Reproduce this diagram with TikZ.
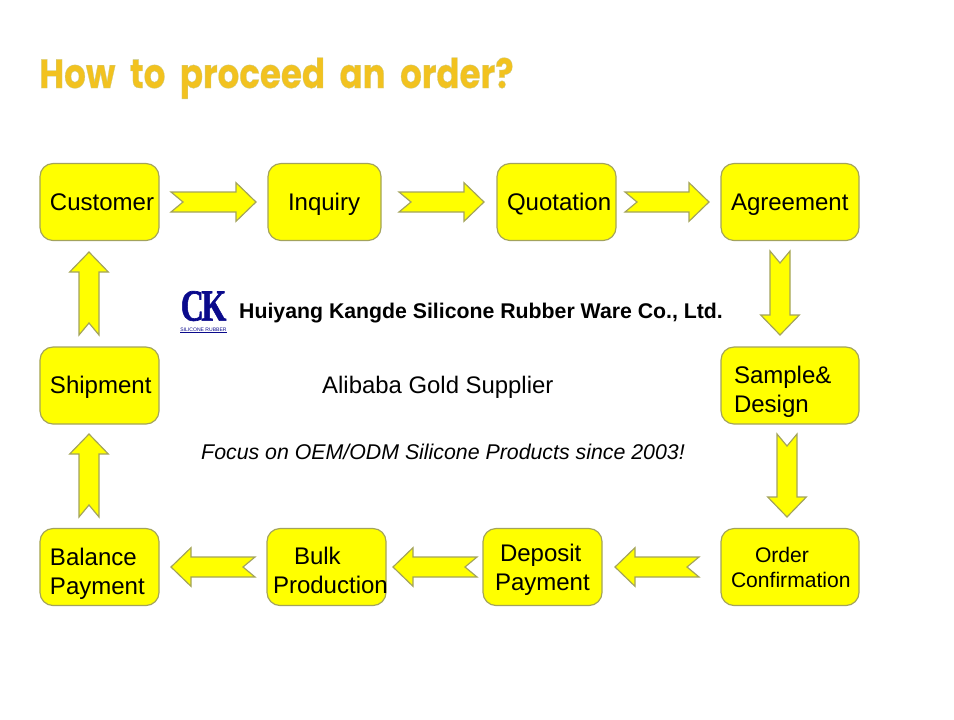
\documentclass[tikz,border=0pt]{standalone}
\usepackage{fontspec}
\setmainfont{Liberation Sans}
\newfontfamily\titlefont[BoldFeatures={FakeBold=0.8},WordSpace=2]{Poppins}
\newfontfamily\logofont[BoldFeatures={FakeBold=1.5}]{Liberation Serif}
\usetikzlibrary{calc}
\definecolor{boxfill}{HTML}{FFFF00}
\definecolor{boxline}{HTML}{A3A35C}
\definecolor{titlegold}{HTML}{F2C21F}
\definecolor{logoblue}{HTML}{0A0A8C}
\newcommand{\fatarrow}[2]{%
  \coordinate (hb) at ($(#2)!\headlen!(#1)$);
  \coordinate (nb) at ($(#1)!\notchlen!(#2)$);
  \draw[flowarrow] (#2) -- ($(hb)!\headhalf!90:(#2)$) -- ($(hb)!\shafthalf!90:(#2)$)
    -- ($(#1)!\shafthalf!90:(#2)$) -- (nb) -- ($(#1)!\shafthalf!-90:(#2)$)
    -- ($(hb)!\shafthalf!-90:(#2)$) -- ($(hb)!\headhalf!-90:(#2)$) -- cycle;
}
\newcommand{\dn}[1]{\rule{0pt}{\dimexpr 0.53cm+#1\relax}}
\begin{document}
\begin{tikzpicture}[
    x=0.03cm, y=-0.03cm,
    box/.style={draw=boxline, fill=boxfill, line width=1pt, rounded corners=0.39cm,
      inner xsep=0.3cm, inner ysep=0pt, outer sep=0pt, align=left,
      minimum height=2.31cm, text width=2.97cm, font=\fontsize{20.5}{24.7}\selectfont},
    widebox/.style={box, text width=3.54cm},
    every node/.style={inner sep=0pt},
    flowarrow/.style={draw=boxline, fill=boxfill, line width=1pt, line join=miter}
]
\def\headlen{0.6cm}
\def\headhalf{0.58cm}
\def\shafthalf{0.3cm}
\def\notchlen{0.36cm}

\useasboundingbox (0,0) rectangle (954,719);

\node[anchor=base west, text=titlegold, yscale=1.2] (title) at (39,88)
  {\titlefont\bfseries\fontsize{29.1}{29.1}\selectfont\special{pdf:code 0.78 0.80 0.58 RG}How to proceed an order?};

\node[box] (customer) at (99.5,202) {Customer};
\node[box, text width=2.79cm] (inquiry) at (324.5,202) {\dn{0.12cm}\hspace*{0.3cm}Inquiry};
\node[box] (quotation) at (556.5,202) {\dn{0.12cm}Quotation};
\node[widebox] (agreement) at (790,202) {\dn{0.12cm}Agreement};
\node[widebox] (sample) at (790,385.5) {\dn{0.36cm}\hspace*{0.09cm}Sample\&\\\hspace*{0.09cm}Design};
\node[box] (shipment) at (99.5,385.5) {\dn{0.12cm}Shipment};
\node[widebox, font=\fontsize{18}{21.3}\selectfont] (order) at (790,567)
  {\hspace*{0.72cm}Order\\Confirmation};
\node[box] (deposit) at (542.5,567) {\dn{0.18cm}\hspace*{0.21cm}Deposit\\\hspace*{0.06cm}Payment};
\node[box] (bulk) at (326.5,567) {\dn{0.18cm}\hspace*{0.51cm}Bulk\\\hspace*{-0.12cm}\mbox{Production}};
\node[box] (balance) at (99.5,567) {\dn{0.42cm}Balance\\Payment};

\coordinate (a1) at (171,202);  \coordinate (b1) at (256,202);
\coordinate (a2) at (399,202);  \coordinate (b2) at (484,202);
\coordinate (a3) at (625,202);  \coordinate (b3) at (709,202);
\coordinate (a4) at (780,251);  \coordinate (b4) at (780,335);
\coordinate (a5) at (787,434);  \coordinate (b5) at (787,517);
\coordinate (a6) at (699,567);  \coordinate (b6) at (615,567);
\coordinate (a7) at (477,567);  \coordinate (b7) at (393,567);
\coordinate (a8) at (255,567);  \coordinate (b8) at (171,567);
\coordinate (a9) at (89,517);   \coordinate (b9) at (89,434);
\coordinate (a10) at (89,335);  \coordinate (b10) at (89,252);

\foreach \n in {1,...,10}{
  \fatarrow{a\n}{b\n}
}

% logo
\node[text=logoblue, xscale=0.72, align=center] (logo) at (203.5,312)
  {\logofont\bfseries\fontsize{38}{38}\selectfont C\kern-3pt K\\[-3pt]
   \mdseries\fontsize{6}{6}\selectfont\scalebox{1}[0.72]{\underline{SILICONE RUBBER}}};

\node[anchor=west] (company) at (239,313.5)
  {\bfseries\fontsize{18.15}{20}\selectfont Huiyang Kangde Silicone Rubber Ware Co., Ltd.};
\node[anchor=west] (gold) at (322,387)
  {\fontsize{20.4}{23}\selectfont Alibaba Gold Supplier};
\node[anchor=west] (focus) at (201,452)
  {\itshape\fontsize{18.2}{20}\selectfont Focus on OEM/ODM Silicone Products since 2003!};
\end{tikzpicture}
\end{document}
